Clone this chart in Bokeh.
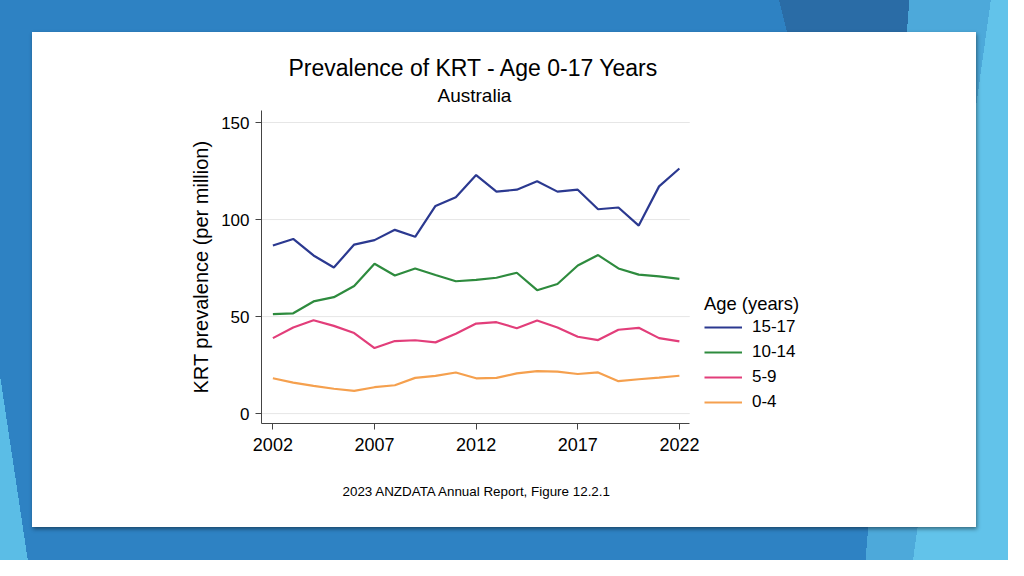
from bokeh.plotting import figure
from bokeh.models import Legend, LegendItem, Range1d, Title
from bokeh.layouts import column
from bokeh.embed import file_html
from bokeh.resources import INLINE

# ---- data ----
years = list(range(2002, 2023))
age_15_17 = [86.6, 90.0, 81.5, 75.3, 87.1, 89.4, 94.7, 91.1, 107.0, 111.5, 122.9,
             114.4, 115.4, 119.7, 114.4, 115.4, 105.3, 106.2, 96.9, 117.1, 126.3]
age_10_14 = [51.3, 51.7, 57.8, 60.0, 65.8, 77.2, 71.2, 74.8, 71.4, 68.2, 68.9,
             70.0, 72.6, 63.6, 66.8, 76.3, 81.7, 74.8, 71.6, 70.7, 69.4]
age_5_9 = [38.9, 44.4, 48.1, 45.2, 41.5, 33.8, 37.4, 37.8, 36.7, 41.1, 46.4,
           47.1, 44.0, 48.0, 44.4, 39.6, 37.9, 43.2, 44.2, 38.9, 37.2]
age_0_4 = [18.2, 16.0, 14.3, 12.8, 11.7, 13.6, 14.6, 18.4, 19.4, 21.2, 18.2,
           18.4, 20.7, 21.9, 21.6, 20.4, 21.2, 16.7, 17.7, 18.5, 19.5]
series_labels = ["15-17", "10-14", "5-9", "0-4"]
series_colors = ["#2B3990", "#2E8B3E", "#E23E7A", "#F5A04E"]
x_ticks = [2002, 2007, 2012, 2017, 2022]
y_ticks = [0, 50, 100, 150]

FONT = "Liberation Sans"
X_START, X_AXIS_END, X_FRAME_END = 2001.44, 2022.51, 2031.5
Y_START, Y_END = -5.1, 156.2

p = figure(width=944, height=495,
           x_range=Range1d(X_START, X_FRAME_END), y_range=Range1d(Y_START, Y_END),
           output_backend="svg", toolbar_location=None,
           min_border_left=229, min_border_right=104,
           min_border_top=78, min_border_bottom=103,
           border_fill_color="white", background_fill_color="white",
           outline_line_color=None, outline_line_alpha=0)

# ---- titles ----
p.title.text = "Prevalence of KRT - Age 0-17 Years"
p.title.text_font = FONT
p.title.text_font_size = "23px"
p.title.text_font_style = "normal"
p.title.text_color = "black"
p.title.align = "left"
p.title.offset = 27
p.title.standoff = -5
p.add_layout(Title(text="Australia", text_font=FONT, text_color="black",
                   text_font_size="19px", text_font_style="normal",
                   align="left", offset=176, standoff=9), "above")

# ---- horizontal grid lines (limited to the axis extent) ----
p.segment(x0=[X_START] * len(y_ticks), x1=[X_AXIS_END] * len(y_ticks),
          y0=y_ticks, y1=y_ticks, line_color="#E6E6E6", line_width=1)

# ---- lines ----
renderers = []
for vals, col in zip([age_15_17, age_10_14, age_5_9, age_0_4], series_colors):
    r = p.line(years, vals, line_color=col, line_width=2.2)
    renderers.append(r)

# ---- axes ----
p.xaxis.ticker = x_ticks
p.yaxis.ticker = y_ticks
p.xaxis.bounds = (X_START, X_AXIS_END)
for ax in (p.xaxis, p.yaxis):
    ax.minor_tick_line_color = None
    ax.major_tick_in = 0
    ax.major_tick_out = 6
    ax.axis_line_color = "#444444"
    ax.major_tick_line_color = "#444444"
    ax.major_label_text_font = FONT
    ax.major_label_text_color = "black"
p.xaxis.major_label_text_font_size = "18px"
p.yaxis.major_label_text_font_size = "17px"
p.xaxis.major_label_standoff = 8
p.yaxis.major_label_standoff = 6
p.yaxis.axis_label = "KRT prevalence (per million)"
p.yaxis.axis_label_text_font = FONT
p.yaxis.axis_label_text_font_size = "20px"
p.yaxis.axis_label_text_font_style = "normal"
p.yaxis.axis_label_text_color = "black"
p.yaxis.axis_label_standoff = 6

p.xgrid.visible = False
p.ygrid.visible = False

# ---- caption ----
p.add_layout(Title(text="2023 ANZDATA Annual Report, Figure 12.2.1", text_font=FONT,
                   text_font_size="13.4px", text_font_style="normal", text_color="black",
                   align="left", offset=81, standoff=57), "below")

# ---- legend ----
legend = Legend(items=[LegendItem(label=l, renderers=[r])
                       for l, r in zip(series_labels, renderers)],
                location=(443, 10), title="Age (years)",
                title_text_font=FONT, title_text_font_size="18.4px",
                title_text_font_style="normal", title_text_color="black",
                title_standoff=1,
                label_text_font=FONT, label_text_font_size="17px",
                label_text_color="black",
                glyph_width=38, glyph_height=22, label_height=22,
                label_standoff=10, spacing=3, padding=0, margin=0,
                border_line_alpha=0, background_fill_alpha=0)
p.add_layout(legend)

# ---- slide background ----
bg = ("linear-gradient(97.91deg, transparent 981.4px, #62C3EA 981.4px), "
      "linear-gradient(94.47deg, transparent 906.6px, #4DA9DA 906.6px), "
      "linear-gradient(75.96deg, transparent 891.6px, #2A6CA6 891.6px, "
      "#2A6CA6 1020.6px, transparent 1020.6px), "
      "linear-gradient(261.45deg, transparent 1052.6px, #5BBDE6 1052.6px)")
card = column(p, width=944, height=495, margin=(32, 0, 0, 32),
              styles={"box-shadow": "1px 2px 4px rgba(0,0,0,0.45)",
                      "background-color": "white"})
layout = column(card, width=1008, height=560,
                styles={"background-color": "#2E82C3", "background-image": bg})

open("out.html", "w").write(file_html(layout, INLINE))
